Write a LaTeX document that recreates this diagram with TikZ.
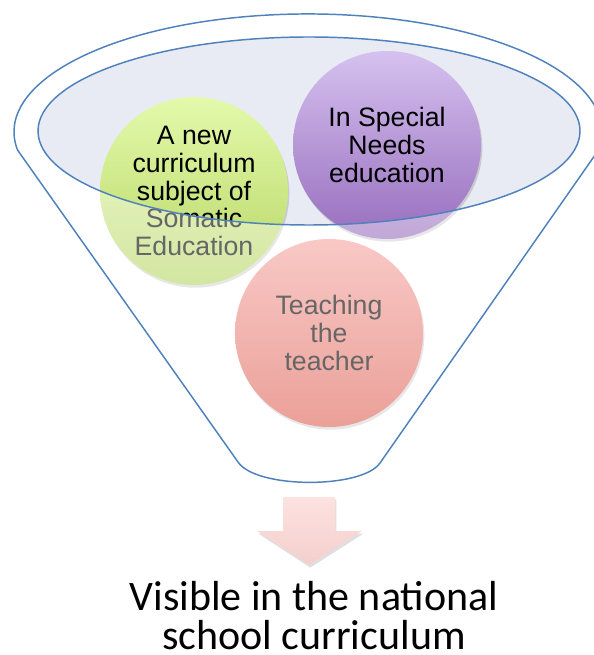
\documentclass[tikz,border=0pt]{standalone}
\usepackage{fontspec}
\usepackage{tikz}
\usetikzlibrary{shadows}

\newfontfamily\arialfont{Liberation Sans}
\newfontfamily\calfont{Carlito}

\definecolor{funnelblue}{HTML}{4F81BD}
\definecolor{mouthfill}{HTML}{E8EBF4}
\definecolor{greentop}{HTML}{E3FAAB}
\definecolor{greenbot}{HTML}{B7D564}
\definecolor{purptop}{HTML}{D5C1EF}
\definecolor{purpbot}{HTML}{986EBE}
\definecolor{pinktop}{HTML}{F5A5A0}
\definecolor{pinkbot}{HTML}{DE6155}
\definecolor{arrowtop}{HTML}{FDE2E0}
\definecolor{arrowbot}{HTML}{F3CFCC}

% outline of the funnel: rim arc, two walls and the rounded spout
\newcommand{\funnelbody}{(17.5,150) arc[start angle=171.2, end angle=368.8, x radius=294, y radius=118]
  -- (380,463) .. controls (362,489) and (256,489) .. (238,462) -- cycle}
\newcommand{\funnelmouth}{(309,131) ellipse [x radius=271, y radius=94]}

\begin{document}
\begin{tikzpicture}[x=0.75pt, y=-0.75pt,
	ball/.style={circle, minimum size=141pt, inner sep=0pt, align=center,
		font=\arialfont\fontsize{20}{20.8}\selectfont,
		drop shadow={shadow xshift=1pt, shadow yshift=-2pt, opacity=0.3}},
	rim/.style={draw=funnelblue, line width=1.1pt}]

	\useasboundingbox (0,0) rectangle (593,655);

	\fill[white] \funnelbody;
	\fill[mouthfill] \funnelmouth;

	% the three topics
	\node (somatic) [ball, top color=greentop, bottom color=greenbot] at (194,191)
		{A new\\curriculum\\subject of\\Somatic\\Education};
	\node (special) [ball, top color=purptop, bottom color=purpbot] at (387,145)
		{In Special\\Needs\\education};
	\node (teacher) [ball, top color=pinktop, bottom color=pinkbot] at (329,333)
		{Teaching\\the\\teacher};

	% the wall of the funnel fades whatever lies below the mouth
	\fill[white, fill opacity=0.4, even odd rule] \funnelbody \funnelmouth;
	\draw[rim] \funnelbody;
	\draw[rim] \funnelmouth;

	% block arrow down to the outcome
	\path[top color=arrowtop, bottom color=arrowbot,
		drop shadow={shadow xshift=1pt, shadow yshift=-2pt, opacity=0.25}]
		(283,497) -- (335,497) -- (335,531) -- (362,531) -- (309,565)
		-- (257,531) -- (283,531) -- cycle;

	\node (result) [anchor=south, inner sep=0pt, align=center,
		font=\calfont\fontsize{31.5}{29.25}\selectfont] at (314,650)
		{Visible in the national\\school curriculum};

\end{tikzpicture}
\end{document}
